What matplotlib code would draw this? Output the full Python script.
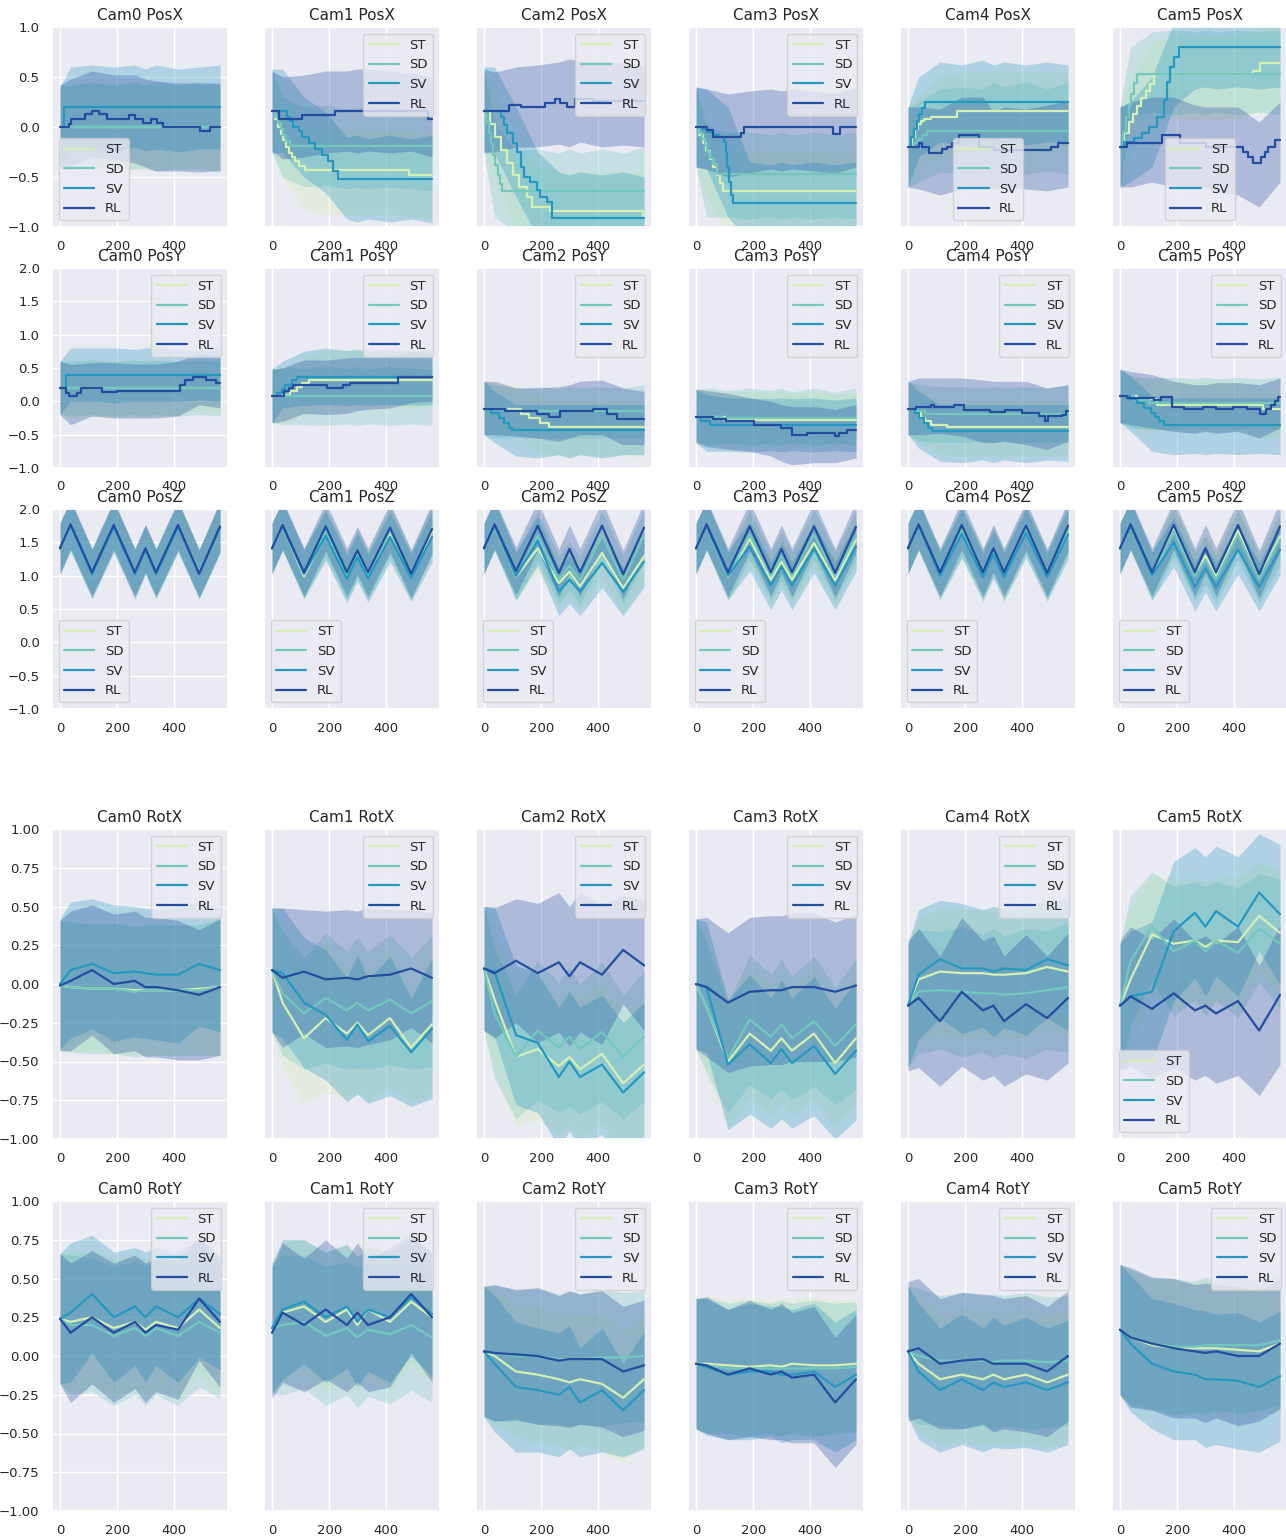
import numpy as np
import matplotlib.pyplot as plt
import seaborn as sns

sns.set_theme(style="darkgrid")
plt.rcParams['font.family'] = ['DejaVu Sans']

methods = ['ST', 'SD', 'SV', 'RL']
cameras = ['Cam0', 'Cam1', 'Cam2', 'Cam3', 'Cam4', 'Cam5']
colors = sns.color_palette("YlGnBu", len(methods))

# waypoint frames of the reference trajectory
frames = [0, 37, 112, 188, 262, 299, 336, 413, 487, 560]

##################
# PosX (stepped) #
##################
posx_mean = [
    [([0, 560], [0.0, 0.0]),
     ([0, 560], [0.0, 0.0]),
     ([0, 14, 560], [0.0, 0.2, 0.2]),
     ([0, 30, 37, 89, 112, 135, 165, 240, 263, 292, 319, 338, 362, 489, 524, 560],
      [0.0, 0.03, 0.08, 0.13, 0.16, 0.13, 0.08, 0.12, 0.08, 0.04, 0.08, 0.04, 0.0, -0.04, 0.0, 0.0])],
    [([0, 10, 20, 30, 40, 50, 60, 70, 80, 95, 116, 481, 560],
      [0.16, 0.08, 0.0, -0.07, -0.13, -0.2, -0.26, -0.3, -0.34, -0.39, -0.43, -0.48, -0.48]),
     ([0, 10, 20, 30, 40, 50, 64, 560], [0.16, 0.1, 0.04, -0.02, -0.08, -0.14, -0.19, -0.19]),
     ([0, 52, 64, 75, 93, 104, 128, 151, 174, 197, 214, 232, 560],
      [0.16, 0.1, 0.06, 0.0, -0.04, -0.1, -0.16, -0.22, -0.28, -0.34, -0.44, -0.52, -0.52]),
     ([0, 23, 104, 220, 545, 560], [0.16, 0.08, 0.12, 0.16, 0.08, 0.08])],
    [([0, 20, 40, 60, 80, 100, 122, 151, 168, 232, 555, 560],
      [0.16, 0.03, -0.1, -0.23, -0.36, -0.48, -0.6, -0.7, -0.8, -0.84, -0.89, -0.89]),
     ([0, 8, 16, 24, 32, 40, 48, 56, 64, 560],
      [0.16, 0.05, -0.06, -0.17, -0.28, -0.38, -0.48, -0.57, -0.64, -0.64]),
     ([0, 58, 70, 81, 100, 116, 128, 139, 162, 186, 197, 220, 238, 560],
      [0.16, 0.1, 0.02, -0.06, -0.16, -0.25, -0.4, -0.5, -0.55, -0.63, -0.7, -0.75, -0.91, -0.91]),
     ([0, 87, 128, 214, 249, 267, 290, 319, 380, 560],
      [0.16, 0.22, 0.2, 0.24, 0.28, 0.24, 0.2, 0.28, 0.26, 0.26])],
    [([0, 12, 24, 36, 48, 60, 72, 84, 96, 560],
      [0.0, -0.08, -0.16, -0.24, -0.32, -0.4, -0.48, -0.56, -0.64, -0.64]),
     ([0, 10, 20, 30, 40, 50, 60, 75, 560],
      [0.0, -0.06, -0.12, -0.19, -0.25, -0.31, -0.37, -0.47, -0.47]),
     ([0, 20, 40, 60, 80, 98, 104, 110, 116, 122, 128, 560],
      [0.0, -0.02, -0.05, -0.08, -0.1, -0.15, -0.25, -0.4, -0.55, -0.68, -0.76, -0.76]),
     ([0, 40, 58, 157, 168, 481, 504, 560], [0.0, -0.03, -0.1, -0.06, 0.0, -0.07, 0.0, 0.0])],
    [([0, 15, 25, 35, 45, 56, 79, 172, 560],
      [-0.2, -0.1, -0.02, 0.03, 0.06, 0.08, 0.1, 0.16, 0.16]),
     ([0, 20, 35, 50, 67, 560], [-0.2, -0.16, -0.12, -0.08, -0.04, -0.04]),
     ([0, 10, 20, 30, 40, 50, 61, 560], [-0.2, -0.1, -0.02, 0.06, 0.13, 0.19, 0.25, 0.25]),
     ([0, 38, 50, 73, 120, 137, 155, 177, 247, 300, 403, 502, 525, 560],
      [-0.2, -0.16, -0.2, -0.26, -0.22, -0.2, -0.16, -0.08, -0.2, -0.23, -0.23, -0.2, -0.16, -0.16])],
    [([0, 15, 30, 45, 60, 75, 90, 105, 118, 466, 489, 560],
      [-0.2, -0.06, 0.05, 0.13, 0.21, 0.29, 0.36, 0.43, 0.53, 0.56, 0.64, 0.64]),
     ([0, 10, 20, 30, 40, 50, 60, 560], [-0.2, -0.05, 0.1, 0.22, 0.33, 0.44, 0.53, 0.53]),
     ([0, 14, 49, 78, 101, 130, 153, 165, 176, 190, 205, 560],
      [-0.2, -0.15, -0.11, -0.06, 0.0, 0.1, 0.27, 0.45, 0.6, 0.7, 0.8, 0.8]),
     ([0, 25, 147, 211, 300, 431, 449, 466, 495, 507, 518, 541, 560],
      [-0.2, -0.16, -0.08, -0.16, -0.2, -0.25, -0.3, -0.36, -0.3, -0.25, -0.2, -0.13, -0.13])],
]
posx_lo = [
    [[-0.4, -0.4, -0.36, -0.42, -0.42, -0.4, -0.42, -0.42, -0.42, -0.44],
     [-0.42, -0.42, -0.4, -0.42, -0.42, -0.42, -0.44, -0.42, -0.42, -0.44],
     [-0.4, -0.22, -0.22, -0.25, -0.2, -0.24, -0.22, -0.25, -0.22, -0.22],
     [-0.42, -0.38, -0.3, -0.32, -0.36, -0.4, -0.44, -0.44, -0.45, -0.44]],
    [[-0.25, -0.5, -0.82, -0.88, -0.88, -0.88, -0.88, -0.88, -0.9, -0.92],
     [-0.25, -0.5, -0.6, -0.58, -0.62, -0.6, -0.62, -0.6, -0.62, -0.64],
     [-0.26, -0.26, -0.5, -0.66, -0.92, -0.95, -0.92, -0.95, -0.92, -0.96],
     [-0.24, -0.32, -0.3, -0.26, -0.24, -0.26, -0.24, -0.26, -0.24, -0.3]],
    [[-0.25, -0.5, -1.0, -1.2, -1.25, -1.25, -1.25, -1.25, -1.25, -1.3],
     [-0.25, -0.9, -1.05, -1.05, -1.05, -1.05, -1.05, -1.05, -1.05, -1.05],
     [-0.26, -0.26, -0.7, -1.1, -1.3, -1.3, -1.3, -1.3, -1.3, -1.3],
     [-0.25, -0.25, -0.2, -0.2, -0.17, -0.2, -0.15, -0.2, -0.18, -0.2]],
    [[-0.4, -0.7, -1.1, -1.1, -1.1, -1.1, -1.1, -1.1, -1.1, -1.1],
     [-0.4, -0.9, -0.9, -0.92, -0.9, -0.92, -0.9, -0.92, -0.9, -0.92],
     [-0.4, -0.42, -0.9, -1.15, -1.15, -1.15, -1.15, -1.15, -1.15, -1.15],
     [-0.4, -0.42, -0.5, -0.46, -0.42, -0.44, -0.42, -0.44, -0.46, -0.4]],
    [[-0.6, -0.4, -0.3, -0.25, -0.25, -0.25, -0.25, -0.25, -0.25, -0.25],
     [-0.6, -0.55, -0.45, -0.47, -0.44, -0.47, -0.44, -0.47, -0.44, -0.47],
     [-0.6, -0.3, -0.15, -0.18, -0.15, -0.18, -0.15, -0.18, -0.15, -0.15],
     [-0.6, -0.62, -0.68, -0.62, -0.6, -0.62, -0.6, -0.62, -0.64, -0.6]],
    [[-0.6, -0.3, 0.05, 0.08, 0.08, 0.08, 0.08, 0.08, 0.15, 0.2],
     [-0.6, 0.1, 0.15, 0.12, 0.15, 0.12, 0.15, 0.12, 0.15, 0.12],
     [-0.6, -0.55, -0.4, 0.2, 0.38, 0.4, 0.38, 0.4, 0.38, 0.4],
     [-0.6, -0.6, -0.55, -0.6, -0.62, -0.6, -0.65, -0.68, -0.8, -0.55]],
]
posx_hi = [
    [[0.4, 0.4, 0.42, 0.4, 0.42, 0.4, 0.42, 0.4, 0.42, 0.4],
     [0.42, 0.42, 0.45, 0.42, 0.45, 0.42, 0.45, 0.42, 0.45, 0.42],
     [0.4, 0.6, 0.62, 0.6, 0.62, 0.58, 0.62, 0.58, 0.6, 0.62],
     [0.42, 0.48, 0.56, 0.52, 0.52, 0.48, 0.46, 0.44, 0.44, 0.44]],
    [[0.56, 0.35, 0.0, -0.02, -0.02, -0.02, -0.02, -0.02, -0.05, -0.06],
     [0.56, 0.3, 0.2, 0.22, 0.18, 0.2, 0.18, 0.2, 0.18, 0.2],
     [0.58, 0.58, 0.3, 0.15, -0.1, -0.08, -0.12, -0.08, -0.12, -0.08],
     [0.56, 0.5, 0.52, 0.56, 0.56, 0.58, 0.58, 0.56, 0.54, 0.5]],
    [[0.56, 0.4, -0.2, -0.4, -0.45, -0.45, -0.45, -0.45, -0.45, -0.45],
     [0.56, 0.05, -0.24, -0.22, -0.26, -0.22, -0.26, -0.22, -0.26, -0.2],
     [0.6, 0.6, 0.2, -0.25, -0.45, -0.48, -0.45, -0.48, -0.45, -0.5],
     [0.58, 0.55, 0.6, 0.62, 0.65, 0.68, 0.66, 0.66, 0.64, 0.62]],
    [[0.4, 0.1, -0.25, -0.25, -0.25, -0.25, -0.25, -0.25, -0.25, -0.25],
     [0.4, 0.0, -0.05, -0.05, -0.08, -0.05, -0.08, -0.05, -0.08, -0.05],
     [0.4, 0.38, 0.2, -0.35, -0.38, -0.35, -0.38, -0.35, -0.38, -0.35],
     [0.4, 0.38, 0.33, 0.36, 0.38, 0.36, 0.38, 0.36, 0.34, 0.4]],
    [[0.2, 0.3, 0.5, 0.55, 0.55, 0.55, 0.55, 0.55, 0.55, 0.55],
     [0.2, 0.25, 0.38, 0.4, 0.38, 0.45, 0.4, 0.45, 0.38, 0.45],
     [0.2, 0.5, 0.65, 0.62, 0.67, 0.62, 0.65, 0.62, 0.65, 0.62],
     [0.2, 0.2, 0.18, 0.3, 0.3, 0.15, 0.2, 0.18, 0.22, 0.26]],
    [[0.2, 0.45, 0.85, 0.9, 0.9, 0.9, 0.9, 0.9, 1.0, 1.0],
     [0.2, 0.8, 0.95, 0.97, 0.95, 0.97, 0.95, 0.97, 0.95, 0.97],
     [0.2, 0.25, 0.5, 1.05, 1.2, 1.2, 1.2, 1.2, 1.2, 1.2],
     [0.2, 0.25, 0.3, 0.3, 0.22, 0.2, 0.2, 0.2, 0.05, 0.25]],
]

##################
# PosY (stepped) #
##################
posy_mean = [
    [([0, 560], [0.2, 0.2]),
     ([0, 560], [0.2, 0.2]),
     ([0, 20, 560], [0.2, 0.4, 0.4]),
     ([0, 20, 31, 58, 72, 147, 200, 420, 437, 466, 512, 547, 560],
      [0.2, 0.13, 0.08, 0.13, 0.2, 0.14, 0.16, 0.24, 0.32, 0.36, 0.32, 0.28, 0.28])],
    [([0, 35, 64, 87, 104, 128, 560], [0.08, 0.1, 0.15, 0.22, 0.28, 0.32, 0.32]),
     ([0, 560], [0.08, 0.08]),
     ([0, 17, 35, 46, 70, 87, 560], [0.08, 0.13, 0.18, 0.25, 0.32, 0.36, 0.36]),
     ([0, 41, 58, 75, 191, 249, 272, 441, 560], [0.08, 0.15, 0.2, 0.25, 0.2, 0.25, 0.28, 0.36, 0.36])],
    [([0, 128, 157, 197, 226, 560], [-0.11, -0.19, -0.25, -0.33, -0.39, -0.39]),
     ([0, 81, 560], [-0.11, -0.15, -0.15]),
     ([0, 23, 52, 70, 87, 99, 560], [-0.11, -0.17, -0.25, -0.33, -0.4, -0.43, -0.43]),
     ([0, 75, 186, 226, 267, 383, 430, 464, 560],
      [-0.11, -0.15, -0.19, -0.24, -0.15, -0.11, -0.19, -0.27, -0.27])],
    [([0, 100, 560], [-0.23, -0.28, -0.28]),
     ([0, 90, 560], [-0.23, -0.25, -0.25]),
     ([0, 17, 50, 560], [-0.23, -0.3, -0.35, -0.35]),
     ([0, 58, 104, 203, 296, 336, 388, 487, 500, 528, 560],
      [-0.23, -0.27, -0.3, -0.35, -0.4, -0.5, -0.47, -0.52, -0.47, -0.43, -0.43])],
    [([0, 30, 45, 60, 79, 137, 560], [-0.11, -0.18, -0.25, -0.3, -0.35, -0.39, -0.39]),
     ([0, 30, 60, 560], [-0.11, -0.15, -0.19, -0.19]),
     ([0, 25, 40, 55, 70, 85, 560], [-0.11, -0.17, -0.25, -0.33, -0.4, -0.45, -0.45]),
     ([0, 27, 79, 90, 160, 195, 287, 340, 400, 460, 479, 490, 540, 554, 560],
      [-0.11, -0.08, -0.05, -0.08, -0.06, -0.13, -0.16, -0.13, -0.18, -0.22, -0.3, -0.22, -0.2, -0.15, -0.15])],
    [([0, 60, 130, 500, 560], [0.08, 0.04, -0.06, -0.12, -0.12]),
     ([0, 50, 100, 560], [0.08, 0.02, -0.03, -0.03]),
     ([0, 35, 60, 83, 107, 124, 136, 153, 560], [0.08, 0.04, -0.03, -0.1, -0.17, -0.23, -0.29, -0.35, -0.35]),
     ([0, 26, 118, 145, 182, 223, 292, 336, 396, 443, 489, 512, 530, 541, 553, 560],
      [0.08, 0.05, 0.02, 0.06, -0.08, -0.11, -0.08, -0.11, -0.08, -0.11, -0.19, -0.12, -0.05, 0.0, 0.07, 0.07])],
]
posy_lo = [
    [[-0.2, -0.25, -0.22, -0.25, -0.24, -0.25, -0.24, -0.2, -0.12, -0.2],
     [-0.2, -0.22, -0.2, -0.22, -0.2, -0.22, -0.2, -0.22, -0.2, -0.22],
     [-0.2, 0.0, 0.0, -0.02, 0.0, 0.0, 0.0, 0.0, 0.02, 0.0],
     [-0.2, -0.35, -0.22, -0.25, -0.25, -0.25, -0.25, -0.22, -0.05, -0.1]],
    [[-0.32, -0.35, -0.2, -0.12, -0.1, -0.12, -0.1, -0.12, -0.1, -0.1],
     [-0.32, -0.35, -0.35, -0.36, -0.34, -0.36, -0.34, -0.36, -0.34, -0.36],
     [-0.32, -0.1, -0.06, -0.05, -0.06, -0.05, -0.06, -0.05, -0.06, -0.05],
     [-0.32, -0.3, -0.18, -0.2, -0.18, -0.14, -0.12, -0.1, -0.02, 0.0]],
    [[-0.5, -0.5, -0.5, -0.75, -0.82, -0.82, -0.8, -0.82, -0.8, -0.85],
     [-0.5, -0.55, -0.55, -0.55, -0.55, -0.55, -0.55, -0.55, -0.55, -0.55],
     [-0.5, -0.62, -0.82, -0.85, -0.8, -0.85, -0.8, -0.85, -0.8, -0.8],
     [-0.5, -0.5, -0.52, -0.55, -0.6, -0.55, -0.5, -0.5, -0.65, -0.65]],
    [[-0.62, -0.65, -0.7, -0.7, -0.68, -0.7, -0.68, -0.7, -0.68, -0.7],
     [-0.6, -0.65, -0.62, -0.65, -0.62, -0.65, -0.62, -0.65, -0.62, -0.65],
     [-0.62, -0.75, -0.75, -0.76, -0.74, -0.76, -0.74, -0.76, -0.74, -0.76],
     [-0.62, -0.68, -0.72, -0.75, -0.82, -0.9, -0.95, -0.92, -0.92, -0.85]],
    [[-0.5, -0.62, -0.8, -0.82, -0.82, -0.82, -0.82, -0.82, -0.82, -0.82],
     [-0.5, -0.6, -0.62, -0.62, -0.6, -0.62, -0.6, -0.62, -0.6, -0.62],
     [-0.5, -0.7, -0.9, -0.92, -0.88, -0.92, -0.88, -0.92, -0.88, -0.9],
     [-0.5, -0.5, -0.48, -0.52, -0.62, -0.62, -0.6, -0.65, -0.72, -0.6]],
    [[-0.32, -0.38, -0.45, -0.45, -0.45, -0.45, -0.45, -0.45, -0.55, -0.55],
     [-0.32, -0.4, -0.42, -0.42, -0.4, -0.42, -0.4, -0.42, -0.4, -0.42],
     [-0.32, -0.45, -0.75, -0.8, -0.78, -0.8, -0.78, -0.8, -0.78, -0.8],
     [-0.32, -0.35, -0.4, -0.45, -0.48, -0.45, -0.48, -0.45, -0.55, -0.4]],
]
posy_hi = [
    [[0.6, 0.58, 0.6, 0.6, 0.6, 0.6, 0.6, 0.6, 0.6, 0.6],
     [0.6, 0.6, 0.62, 0.6, 0.62, 0.6, 0.62, 0.6, 0.62, 0.6],
     [0.6, 0.8, 0.8, 0.8, 0.78, 0.8, 0.8, 0.78, 0.76, 0.8],
     [0.6, 0.55, 0.58, 0.58, 0.56, 0.56, 0.56, 0.6, 0.72, 0.68]],
    [[0.48, 0.5, 0.65, 0.75, 0.78, 0.75, 0.78, 0.75, 0.78, 0.75],
     [0.48, 0.5, 0.5, 0.52, 0.5, 0.52, 0.5, 0.52, 0.5, 0.48],
     [0.48, 0.6, 0.75, 0.8, 0.76, 0.78, 0.76, 0.78, 0.76, 0.78],
     [0.48, 0.5, 0.62, 0.62, 0.65, 0.66, 0.66, 0.68, 0.75, 0.72]],
    [[0.3, 0.28, 0.25, 0.1, 0.0, 0.0, 0.0, 0.0, 0.0, 0.05],
     [0.3, 0.25, 0.2, 0.22, 0.2, 0.22, 0.2, 0.22, 0.2, 0.25],
     [0.3, 0.15, -0.05, -0.05, -0.05, -0.05, -0.05, -0.05, -0.05, -0.05],
     [0.3, 0.3, 0.2, 0.2, 0.22, 0.25, 0.3, 0.32, 0.2, 0.15]],
    [[0.18, 0.18, 0.14, 0.15, 0.12, 0.15, 0.12, 0.15, 0.1, 0.12],
     [0.18, 0.2, 0.16, 0.2, 0.16, 0.2, 0.14, 0.2, 0.14, 0.2],
     [0.18, 0.1, 0.05, 0.05, 0.04, 0.05, 0.04, 0.05, 0.02, 0.05],
     [0.18, 0.16, 0.12, 0.05, 0.0, -0.05, -0.08, -0.08, -0.12, -0.05]],
    [[0.3, 0.2, 0.02, 0.0, 0.0, 0.0, 0.0, 0.0, 0.0, 0.0],
     [0.3, 0.25, 0.22, 0.22, 0.2, 0.22, 0.2, 0.22, 0.2, 0.25],
     [0.3, 0.15, -0.05, -0.05, -0.05, -0.05, -0.05, -0.05, -0.05, -0.05],
     [0.3, 0.35, 0.35, 0.35, 0.32, 0.3, 0.3, 0.3, 0.2, 0.25]],
    [[0.48, 0.4, 0.33, 0.3, 0.3, 0.3, 0.3, 0.3, 0.2, 0.2],
     [0.48, 0.38, 0.35, 0.36, 0.34, 0.36, 0.34, 0.36, 0.34, 0.36],
     [0.48, 0.38, 0.08, 0.05, 0.06, 0.05, 0.06, 0.05, 0.06, 0.05],
     [0.48, 0.45, 0.4, 0.3, 0.25, 0.25, 0.28, 0.28, 0.25, 0.35]],
]

#######################
# PosZ (at waypoints) #
#######################
posz_mean = [
    [[1.41, 1.75, 1.03, 1.74, 1.03, 1.4, 1.03, 1.74, 1.04, 1.72],
     [1.41, 1.75, 1.03, 1.74, 1.04, 1.4, 1.04, 1.74, 1.03, 1.73],
     [1.41, 1.75, 1.02, 1.73, 1.02, 1.39, 1.02, 1.73, 1.02, 1.72],
     [1.41, 1.77, 1.05, 1.76, 1.05, 1.41, 1.05, 1.76, 1.03, 1.74]],
    [[1.41, 1.75, 0.99, 1.62, 1.0, 1.32, 1.0, 1.64, 0.99, 1.66],
     [1.41, 1.75, 1.02, 1.66, 1.0, 1.34, 1.0, 1.68, 1.0, 1.72],
     [1.41, 1.75, 1.03, 1.6, 0.95, 1.28, 0.96, 1.58, 0.97, 1.58],
     [1.41, 1.76, 1.05, 1.74, 1.05, 1.38, 1.05, 1.72, 1.03, 1.7]],
    [[1.41, 1.74, 0.98, 1.41, 0.89, 1.06, 0.84, 1.34, 0.81, 1.29],
     [1.41, 1.75, 0.98, 1.6, 0.94, 1.15, 0.93, 1.6, 0.94, 1.6],
     [1.41, 1.75, 1.0, 1.52, 0.76, 0.94, 0.76, 1.19, 0.76, 1.21],
     [1.41, 1.77, 1.07, 1.75, 1.04, 1.4, 1.05, 1.75, 1.02, 1.72]],
    [[1.41, 1.75, 0.98, 1.55, 0.94, 1.21, 0.94, 1.49, 0.93, 1.54],
     [1.41, 1.75, 0.99, 1.62, 1.0, 1.3, 1.0, 1.62, 1.0, 1.6],
     [1.41, 1.75, 1.0, 1.44, 0.85, 1.14, 0.85, 1.41, 0.85, 1.44],
     [1.41, 1.77, 1.05, 1.74, 1.05, 1.4, 1.05, 1.74, 1.04, 1.73]],
    [[1.41, 1.75, 1.02, 1.65, 1.0, 1.35, 1.0, 1.66, 1.0, 1.66],
     [1.41, 1.75, 1.03, 1.68, 1.02, 1.37, 1.02, 1.7, 1.02, 1.7],
     [1.41, 1.75, 1.0, 1.63, 0.98, 1.32, 0.98, 1.64, 0.98, 1.62],
     [1.41, 1.77, 1.05, 1.76, 1.05, 1.41, 1.05, 1.75, 1.04, 1.75]],
    [[1.41, 1.75, 1.0, 1.7, 1.0, 1.3, 1.0, 1.68, 0.98, 1.59],
     [1.41, 1.75, 0.98, 1.66, 0.99, 1.24, 0.95, 1.61, 0.95, 1.54],
     [1.41, 1.75, 1.0, 1.5, 0.83, 1.11, 0.83, 1.39, 0.83, 1.39],
     [1.41, 1.77, 1.05, 1.76, 1.05, 1.41, 1.05, 1.76, 1.02, 1.74]],
]
posz_std = [
    [[0.38, 0.37, 0.36, 0.37, 0.36, 0.36, 0.36, 0.37, 0.36, 0.38],
     [0.38, 0.37, 0.36, 0.37, 0.36, 0.36, 0.36, 0.37, 0.36, 0.38],
     [0.39, 0.38, 0.37, 0.38, 0.37, 0.37, 0.37, 0.38, 0.37, 0.39],
     [0.38, 0.37, 0.36, 0.37, 0.36, 0.36, 0.36, 0.37, 0.36, 0.38]],
    [[0.38, 0.37, 0.36, 0.37, 0.36, 0.36, 0.36, 0.37, 0.36, 0.38],
     [0.38, 0.37, 0.36, 0.37, 0.36, 0.36, 0.36, 0.37, 0.36, 0.38],
     [0.38, 0.37, 0.37, 0.37, 0.36, 0.36, 0.36, 0.37, 0.36, 0.38],
     [0.38, 0.37, 0.36, 0.37, 0.36, 0.36, 0.36, 0.37, 0.36, 0.38]],
    [[0.38, 0.37, 0.36, 0.37, 0.36, 0.36, 0.36, 0.37, 0.36, 0.38],
     [0.38, 0.37, 0.36, 0.37, 0.36, 0.36, 0.36, 0.37, 0.36, 0.38],
     [0.38, 0.37, 0.36, 0.37, 0.36, 0.36, 0.36, 0.37, 0.36, 0.38],
     [0.38, 0.37, 0.36, 0.37, 0.36, 0.36, 0.36, 0.37, 0.36, 0.38]],
    [[0.38, 0.37, 0.36, 0.37, 0.36, 0.36, 0.36, 0.37, 0.36, 0.38],
     [0.38, 0.37, 0.36, 0.37, 0.36, 0.36, 0.36, 0.37, 0.36, 0.38],
     [0.38, 0.37, 0.36, 0.37, 0.36, 0.36, 0.36, 0.37, 0.36, 0.38],
     [0.38, 0.37, 0.36, 0.37, 0.36, 0.36, 0.36, 0.37, 0.36, 0.38]],
    [[0.38, 0.37, 0.36, 0.37, 0.36, 0.36, 0.36, 0.37, 0.36, 0.38],
     [0.38, 0.37, 0.36, 0.37, 0.36, 0.36, 0.36, 0.37, 0.36, 0.38],
     [0.38, 0.37, 0.36, 0.37, 0.36, 0.36, 0.36, 0.37, 0.36, 0.38],
     [0.38, 0.37, 0.36, 0.37, 0.36, 0.36, 0.36, 0.37, 0.36, 0.38]],
    [[0.38, 0.37, 0.36, 0.37, 0.36, 0.36, 0.36, 0.37, 0.36, 0.38],
     [0.38, 0.37, 0.36, 0.37, 0.36, 0.36, 0.36, 0.37, 0.36, 0.38],
     [0.38, 0.37, 0.36, 0.37, 0.36, 0.36, 0.36, 0.37, 0.36, 0.38],
     [0.38, 0.37, 0.36, 0.37, 0.36, 0.36, 0.36, 0.37, 0.36, 0.38]],
]

#######################
# RotX (at waypoints) #
#######################
rotx_mean = [
    [[-0.01, -0.02, -0.03, -0.03, -0.04, -0.04, -0.04, -0.04, -0.03, -0.02],
     [-0.01, -0.02, -0.03, -0.03, -0.05, -0.04, -0.04, -0.04, -0.04, -0.02],
     [0.0, 0.09, 0.13, 0.07, 0.08, 0.07, 0.06, 0.06, 0.13, 0.09],
     [-0.01, 0.02, 0.09, 0.0, 0.02, -0.02, -0.02, -0.04, -0.07, -0.02]],
    [[0.09, -0.12, -0.35, -0.22, -0.32, -0.25, -0.33, -0.22, -0.41, -0.26],
     [0.09, -0.06, -0.19, -0.09, -0.17, -0.12, -0.17, -0.1, -0.19, -0.11],
     [0.09, 0.07, -0.12, -0.2, -0.36, -0.26, -0.37, -0.27, -0.44, -0.29],
     [0.09, 0.04, 0.08, 0.03, 0.04, 0.03, 0.05, 0.06, 0.1, 0.04]],
    [[0.1, -0.1, -0.47, -0.42, -0.53, -0.47, -0.55, -0.45, -0.64, -0.52],
     [0.1, -0.19, -0.47, -0.3, -0.41, -0.34, -0.42, -0.31, -0.47, -0.34],
     [0.1, 0.08, -0.33, -0.38, -0.6, -0.5, -0.6, -0.52, -0.7, -0.57],
     [0.1, 0.07, 0.15, 0.07, 0.14, 0.05, 0.14, 0.06, 0.22, 0.12]],
    [[0.0, -0.15, -0.5, -0.32, -0.43, -0.35, -0.43, -0.32, -0.51, -0.35],
     [0.0, -0.15, -0.48, -0.23, -0.34, -0.26, -0.35, -0.24, -0.4, -0.26],
     [0.0, -0.02, -0.52, -0.39, -0.51, -0.42, -0.51, -0.4, -0.58, -0.43],
     [0.0, -0.02, -0.12, -0.05, -0.04, -0.04, -0.02, -0.02, -0.05, -0.01]],
    [[-0.14, 0.03, 0.08, 0.07, 0.07, 0.06, 0.06, 0.07, 0.11, 0.08],
     [-0.14, -0.05, -0.04, -0.05, -0.06, -0.06, -0.07, -0.06, -0.04, -0.02],
     [-0.14, 0.06, 0.16, 0.1, 0.1, 0.08, 0.1, 0.09, 0.16, 0.12],
     [-0.14, -0.09, -0.24, -0.05, -0.17, -0.14, -0.24, -0.13, -0.22, -0.09]],
    [[-0.14, 0.03, 0.32, 0.26, 0.28, 0.24, 0.28, 0.27, 0.44, 0.33],
     [-0.14, 0.15, 0.37, 0.21, 0.28, 0.21, 0.28, 0.2, 0.36, 0.26],
     [-0.14, -0.08, -0.05, 0.34, 0.46, 0.37, 0.47, 0.37, 0.59, 0.45],
     [-0.14, -0.08, -0.16, -0.06, -0.17, -0.14, -0.19, -0.11, -0.3, -0.07]],
]
rotx_std = [
    [[0.42, 0.42, 0.4, 0.42, 0.42, 0.42, 0.42, 0.42, 0.42, 0.44],
     [0.42, 0.42, 0.42, 0.42, 0.42, 0.42, 0.42, 0.42, 0.42, 0.44],
     [0.42, 0.44, 0.42, 0.44, 0.42, 0.42, 0.42, 0.44, 0.4, 0.4],
     [0.42, 0.45, 0.42, 0.45, 0.45, 0.45, 0.45, 0.45, 0.42, 0.44]],
    [[0.4, 0.42, 0.42, 0.48, 0.42, 0.45, 0.42, 0.45, 0.35, 0.45],
     [0.4, 0.4, 0.36, 0.42, 0.38, 0.42, 0.38, 0.42, 0.36, 0.42],
     [0.4, 0.42, 0.42, 0.42, 0.4, 0.45, 0.4, 0.45, 0.35, 0.45],
     [0.4, 0.45, 0.4, 0.44, 0.44, 0.44, 0.44, 0.42, 0.38, 0.42]],
    [[0.4, 0.45, 0.45, 0.45, 0.45, 0.45, 0.45, 0.45, 0.45, 0.45],
     [0.4, 0.42, 0.4, 0.45, 0.42, 0.45, 0.42, 0.45, 0.4, 0.42],
     [0.4, 0.42, 0.45, 0.45, 0.45, 0.45, 0.45, 0.45, 0.45, 0.45],
     [0.4, 0.42, 0.4, 0.45, 0.45, 0.45, 0.45, 0.45, 0.35, 0.42]],
    [[0.42, 0.45, 0.42, 0.42, 0.42, 0.42, 0.42, 0.42, 0.42, 0.42],
     [0.42, 0.42, 0.35, 0.42, 0.4, 0.42, 0.4, 0.42, 0.38, 0.42],
     [0.42, 0.42, 0.42, 0.45, 0.42, 0.45, 0.42, 0.45, 0.42, 0.45],
     [0.42, 0.45, 0.45, 0.48, 0.48, 0.48, 0.48, 0.48, 0.45, 0.46]],
    [[0.4, 0.4, 0.4, 0.42, 0.4, 0.42, 0.4, 0.42, 0.4, 0.42],
     [0.4, 0.4, 0.38, 0.42, 0.38, 0.42, 0.38, 0.42, 0.38, 0.42],
     [0.4, 0.42, 0.38, 0.42, 0.38, 0.42, 0.38, 0.42, 0.38, 0.42],
     [0.42, 0.45, 0.42, 0.48, 0.45, 0.45, 0.42, 0.45, 0.4, 0.42]],
    [[0.4, 0.45, 0.38, 0.42, 0.4, 0.42, 0.4, 0.42, 0.35, 0.4],
     [0.4, 0.42, 0.35, 0.42, 0.38, 0.42, 0.38, 0.42, 0.35, 0.42],
     [0.4, 0.42, 0.45, 0.45, 0.42, 0.45, 0.42, 0.45, 0.38, 0.45],
     [0.42, 0.45, 0.45, 0.48, 0.45, 0.45, 0.45, 0.48, 0.42, 0.45]],
]

#######################
# RotY (at waypoints) #
#######################
roty_mean = [
    [[0.24, 0.22, 0.25, 0.18, 0.22, 0.17, 0.22, 0.18, 0.3, 0.18],
     [0.24, 0.2, 0.2, 0.13, 0.18, 0.13, 0.18, 0.13, 0.22, 0.15],
     [0.24, 0.28, 0.4, 0.25, 0.32, 0.25, 0.32, 0.25, 0.37, 0.27],
     [0.24, 0.15, 0.25, 0.15, 0.22, 0.15, 0.2, 0.17, 0.37, 0.22]],
    [[0.18, 0.28, 0.32, 0.22, 0.3, 0.2, 0.3, 0.22, 0.35, 0.25],
     [0.18, 0.2, 0.22, 0.13, 0.18, 0.12, 0.17, 0.14, 0.2, 0.12],
     [0.18, 0.3, 0.35, 0.25, 0.32, 0.22, 0.3, 0.25, 0.38, 0.27],
     [0.15, 0.28, 0.2, 0.3, 0.2, 0.28, 0.2, 0.25, 0.4, 0.25]],
    [[0.03, 0.0, -0.1, -0.12, -0.15, -0.17, -0.15, -0.18, -0.27, -0.15],
     [0.03, 0.02, 0.0, 0.0, -0.02, -0.02, -0.02, -0.01, -0.01, 0.0],
     [0.03, -0.05, -0.2, -0.22, -0.25, -0.2, -0.3, -0.22, -0.35, -0.22],
     [0.03, 0.02, 0.01, 0.0, -0.03, -0.02, -0.02, -0.02, -0.1, -0.06]],
    [[-0.05, -0.05, -0.06, -0.07, -0.06, -0.07, -0.05, -0.06, -0.06, -0.05],
     [-0.05, -0.06, -0.08, -0.08, -0.08, -0.08, -0.08, -0.08, -0.08, -0.07],
     [-0.05, -0.07, -0.12, -0.1, -0.1, -0.12, -0.12, -0.1, -0.2, -0.12],
     [-0.05, -0.06, -0.12, -0.08, -0.12, -0.1, -0.14, -0.12, -0.3, -0.15]],
    [[0.03, -0.05, -0.15, -0.12, -0.15, -0.12, -0.15, -0.12, -0.17, -0.12],
     [0.03, 0.0, -0.03, -0.03, -0.03, -0.04, -0.03, -0.03, -0.04, -0.03],
     [0.03, -0.1, -0.22, -0.15, -0.22, -0.17, -0.2, -0.17, -0.22, -0.17],
     [0.03, 0.05, -0.05, -0.03, -0.02, -0.05, -0.05, -0.05, -0.1, 0.0]],
    [[0.17, 0.12, 0.07, 0.05, 0.05, 0.05, 0.05, 0.04, 0.03, 0.08],
     [0.17, 0.12, 0.08, 0.06, 0.06, 0.07, 0.07, 0.07, 0.07, 0.1],
     [0.17, 0.08, -0.05, -0.1, -0.12, -0.15, -0.15, -0.16, -0.2, -0.13],
     [0.17, 0.12, 0.08, 0.05, 0.03, 0.02, 0.03, 0.0, 0.0, 0.08]],
]
roty_std = [
    [[0.42, 0.45, 0.43, 0.45, 0.43, 0.45, 0.43, 0.45, 0.42, 0.42],
     [0.42, 0.45, 0.43, 0.45, 0.43, 0.45, 0.43, 0.45, 0.42, 0.42],
     [0.42, 0.45, 0.38, 0.42, 0.38, 0.42, 0.38, 0.42, 0.38, 0.36],
     [0.42, 0.45, 0.43, 0.45, 0.43, 0.45, 0.43, 0.45, 0.4, 0.42]],
    [[0.42, 0.45, 0.43, 0.45, 0.43, 0.45, 0.43, 0.45, 0.4, 0.42],
     [0.42, 0.45, 0.43, 0.45, 0.43, 0.45, 0.43, 0.45, 0.42, 0.42],
     [0.42, 0.45, 0.4, 0.42, 0.4, 0.42, 0.4, 0.42, 0.38, 0.4],
     [0.42, 0.45, 0.43, 0.45, 0.43, 0.45, 0.43, 0.45, 0.38, 0.42]],
    [[0.42, 0.44, 0.42, 0.44, 0.42, 0.44, 0.42, 0.44, 0.42, 0.42],
     [0.42, 0.44, 0.42, 0.44, 0.42, 0.44, 0.42, 0.44, 0.42, 0.42],
     [0.42, 0.44, 0.42, 0.4, 0.4, 0.4, 0.35, 0.4, 0.3, 0.38],
     [0.42, 0.44, 0.42, 0.44, 0.42, 0.44, 0.42, 0.44, 0.42, 0.42]],
    [[0.42, 0.44, 0.42, 0.44, 0.42, 0.44, 0.42, 0.44, 0.42, 0.42],
     [0.42, 0.44, 0.42, 0.44, 0.42, 0.44, 0.42, 0.44, 0.42, 0.42],
     [0.42, 0.44, 0.42, 0.44, 0.42, 0.44, 0.42, 0.44, 0.42, 0.42],
     [0.42, 0.44, 0.42, 0.44, 0.42, 0.44, 0.42, 0.44, 0.42, 0.42]],
    [[0.42, 0.44, 0.42, 0.44, 0.42, 0.44, 0.42, 0.44, 0.42, 0.42],
     [0.42, 0.44, 0.42, 0.44, 0.42, 0.44, 0.42, 0.44, 0.42, 0.42],
     [0.42, 0.44, 0.4, 0.42, 0.4, 0.42, 0.4, 0.42, 0.4, 0.4],
     [0.45, 0.45, 0.42, 0.44, 0.42, 0.44, 0.42, 0.44, 0.42, 0.42]],
    [[0.42, 0.44, 0.42, 0.44, 0.42, 0.44, 0.42, 0.44, 0.42, 0.42],
     [0.42, 0.44, 0.42, 0.44, 0.42, 0.44, 0.42, 0.44, 0.42, 0.42],
     [0.42, 0.44, 0.42, 0.44, 0.42, 0.44, 0.42, 0.44, 0.42, 0.42],
     [0.42, 0.45, 0.43, 0.45, 0.43, 0.45, 0.43, 0.45, 0.42, 0.42]],
]

posx_legend = ['lower left', 'upper right', 'upper right', 'upper right', 'lower center', 'lower center']
posy_legend = ['upper right'] * 6
posz_legend = ['lower left'] * 6
rotx_legend = ['upper right'] * 5 + ['lower left']
roty_legend = ['upper right'] * 6


def draw_panel(ax, lows, highs, lines, stepped):
    for i in range(len(methods)):
        ax.fill_between(frames, lows[i], highs[i], color=colors[i], alpha=0.3, lw=0)
    for i, name in enumerate(methods):
        if stepped:
            xs, ys = lines[i]
            ax.plot(xs, ys, color=colors[i], lw=1.6, label=name, drawstyle='steps-post')
        else:
            ax.plot(frames, lines[i], color=colors[i], lw=1.6, label=name)


W, H = 1286, 1538
fig = plt.figure(figsize=(W / 100, H / 100), dpi=100)
col_left = [52, 264, 476, 688, 900, 1112]
col_w = 176

rows = [
    ('PosX', 27, 200, (-1, 1), [-1, -0.5, 0, 0.5, 1], posx_legend),
    ('PosY', 268, 200, (-1, 2), [-1, -0.5, 0, 0.5, 1, 1.5, 2], posy_legend),
    ('PosZ', 509, 200, (-1, 2), [-1, -0.5, 0, 0.5, 1, 1.5, 2], posz_legend),
    ('RotX', 829, 310, (-1, 1), [-1, -0.75, -0.5, -0.25, 0, 0.25, 0.5, 0.75, 1], rotx_legend),
    ('RotY', 1201, 310, (-1, 1), [-1, -0.75, -0.5, -0.25, 0, 0.25, 0.5, 0.75, 1], roty_legend),
]

for name, top, h, ylim, yticks, legend_locs in rows:
    for c, cam in enumerate(cameras):
        ax = fig.add_axes([col_left[c] / W, 1 - (top + h) / H, col_w / W, h / H])
        if name == 'PosX':
            draw_panel(ax, posx_lo[c], posx_hi[c], posx_mean[c], True)
        elif name == 'PosY':
            draw_panel(ax, posy_lo[c], posy_hi[c], posy_mean[c], True)
        else:
            mean = {'PosZ': posz_mean, 'RotX': rotx_mean, 'RotY': roty_mean}[name][c]
            std = {'PosZ': posz_std, 'RotX': rotx_std, 'RotY': roty_std}[name][c]
            lows = [np.array(m) - np.array(s) for m, s in zip(mean, std)]
            highs = [np.array(m) + np.array(s) for m, s in zip(mean, std)]
            draw_panel(ax, lows, highs, mean, False)
        ax.set_ylim(*ylim)
        ax.set_xticks([0, 200, 400])
        if c == 0:
            ax.set_yticks(yticks)
        else:
            ax.set_yticks([])
        ax.tick_params(labelsize=9.5, pad=3)
        ax.set_title(f'{cam} {name}', fontsize=11, pad=5)
        ax.legend(loc=legend_locs[c], fontsize=9.5, handlelength=2.3)

fig.savefig('out.png', dpi=100)
